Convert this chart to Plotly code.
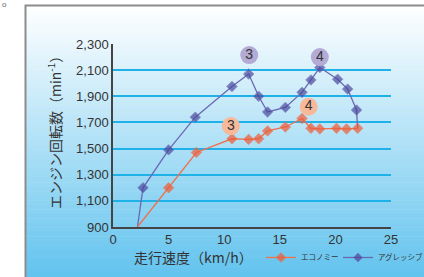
import plotly.graph_objects as go

# ---- data ----
eco_x = [2.2, 5.0, 7.5, 10.7, 12.2, 13.1, 13.9, 15.5, 17.0, 17.8, 18.6, 20.1, 21.0, 22.0]
eco_y = [900, 1200, 1470, 1575, 1570, 1575, 1635, 1665, 1730, 1655, 1650, 1655, 1650, 1655]
agg_x = [2.2, 2.7, 5.0, 7.4, 10.7, 12.2, 13.1, 13.9, 15.5, 17.0, 17.8, 18.6, 20.2, 21.1, 21.9, 22.0]
agg_y = [900, 1200, 1490, 1740, 1975, 2070, 1900, 1780, 1815, 1930, 2025, 2120, 2030, 1955, 1795, 1655]
agg_label_x = [12.25, 18.6]
agg_label_y = [2215, 2200]
agg_label_text = ["3", "4"]
eco_label_x = [10.6, 17.6]
eco_label_y = [1672, 1820]
eco_label_text = ["3", "4"]
y_ticks = [900, 1100, 1300, 1500, 1700, 1900, 2100, 2300]
x_ticks = [0, 5, 10, 15, 20, 25]

W, H = 424, 277
ML, MR, MT, MB = 113, 33, 44, 50
PW, PH = W - ML - MR, H - MT - MB


def px2x(p):
    return (p - ML) / PW


def px2y(p):
    return (H - MB - p) / PH


ORANGE = "#ef5a36"
ORANGE_LINE = "#f0704c"
BLUE = "#4a489c"
BLUE_LINE = "#6a68b4"

fig = go.Figure()

fig.add_trace(go.Scatter(
    x=agg_x, y=agg_y, name="アグレッシブ", mode="lines+markers",
    line=dict(color=BLUE_LINE, width=1.3),
    marker=dict(symbol="diamond", color=BLUE,
                size=[0] + [8] * (len(agg_x) - 2) + [0]),
    cliponaxis=False, legend="legend2",
))
fig.add_trace(go.Scatter(
    x=eco_x, y=eco_y, name="エコノミー", mode="lines+markers",
    line=dict(color=ORANGE_LINE, width=1.3),
    marker=dict(symbol="diamond", color=ORANGE,
                size=[0] + [8] * (len(eco_x) - 1)),
    cliponaxis=False, legend="legend",
))
fig.add_trace(go.Scatter(
    x=agg_label_x, y=agg_label_y, text=agg_label_text, mode="markers+text",
    marker=dict(symbol="circle", size=18, color="#b4aad6"),
    textposition="middle center",
    textfont=dict(size=14, color="#333333", family="Liberation Sans"),
    showlegend=False, cliponaxis=False, hoverinfo="skip",
))
fig.add_trace(go.Scatter(
    x=eco_label_x, y=eco_label_y, text=eco_label_text, mode="markers+text",
    marker=dict(symbol="circle", size=18, color="#f8b89a"),
    textposition="middle center",
    textfont=dict(size=14, color="#333333", family="Liberation Sans"),
    showlegend=False, cliponaxis=False, hoverinfo="skip",
))

# gradient background bands
shapes = []
top_px, bot_px = 6.0, 277.0
N = 60


def lerp(a, b, t):
    return int(round(a + (b - a) * t))


c0 = (255, 255, 255)
c1 = (98, 195, 238)
for i in range(N):
    p0 = top_px + (bot_px - top_px) * i / N
    p1 = top_px + (bot_px - top_px) * (i + 1) / N + 0.5
    t = (i + 0.5) / N
    col = "rgb(%d,%d,%d)" % tuple(lerp(c0[k], c1[k], t) for k in range(3))
    shapes.append(dict(type="rect", xref="paper", yref="paper",
                       x0=px2x(25), x1=px2x(W + 2), y0=px2y(p1), y1=px2y(p0),
                       fillcolor=col, line=dict(width=0), layer="below"))
# frame border
shapes.append(dict(type="path", xref="paper", yref="paper",
                   path="M %f,%f L %f,%f L %f,%f" % (px2x(25.5), px2y(H + 2), px2x(25.5), px2y(5.5),
                                                     px2x(W + 2), px2y(5.5)),
                   line=dict(color="#8c8c8c", width=2), layer="above"))

annotations = [
    dict(text="エンジン回転数（min<sup>-1</sup>）", textangle=-90, xref="paper", yref="paper",
         x=px2x(54), y=px2y(129), xanchor="center", yanchor="middle", showarrow=False,
         font=dict(size=14, color="#333333", family="Noto Sans CJK JP")),
    dict(text="走行速度（km/h）", xref="paper", yref="paper",
         x=px2x(193), y=px2y(257), xanchor="center", yanchor="middle", showarrow=False,
         font=dict(size=14, color="#333333", family="Noto Sans CJK JP")),
    dict(text="o", xref="paper", yref="paper", x=px2x(4.5), y=px2y(4.5),
         xanchor="center", yanchor="middle", showarrow=False,
         font=dict(size=8, color="#666666", family="Liberation Sans")),
]

legend_common = dict(orientation="h", xref="container", yref="container",
                     xanchor="left", yanchor="middle",
                     font=dict(size=7.5, color="#333333", family="Noto Sans CJK JP"),
                     bgcolor="rgba(0,0,0,0)", itemwidth=30)

fig.update_layout(
    width=W, height=H,
    margin=dict(l=ML, r=MR, t=MT, b=MB, pad=0, autoexpand=False),
    paper_bgcolor="white", plot_bgcolor="rgba(0,0,0,0)",
    shapes=shapes, annotations=annotations,
    showlegend=True,
    legend=dict(x=261 / W, y=1 - 257.5 / H, **legend_common),
    legend2=dict(x=338 / W, y=1 - 257.5 / H, **legend_common),
    xaxis=dict(range=[0, 25], tickvals=x_ticks, showgrid=False, zeroline=False,
               showline=True, linecolor="#444444", linewidth=1.5, ticks="",
               tickfont=dict(size=13, color="#333333", family="Liberation Sans"),
               fixedrange=True),
    yaxis=dict(range=[900, 2300], tickvals=y_ticks, tickformat=",d", showgrid=True,
               gridcolor="#1fb2e8", gridwidth=1.5, zeroline=False,
               showline=True, linecolor="#444444", linewidth=1.5, ticks="",
               tickfont=dict(size=13, color="#333333", family="Liberation Sans"),
               fixedrange=True),
)

fig.write_html("out.html", config={"displayModeBar": False},
               post_script="document.body.style.margin='0';document.body.style.overflow='hidden';")
